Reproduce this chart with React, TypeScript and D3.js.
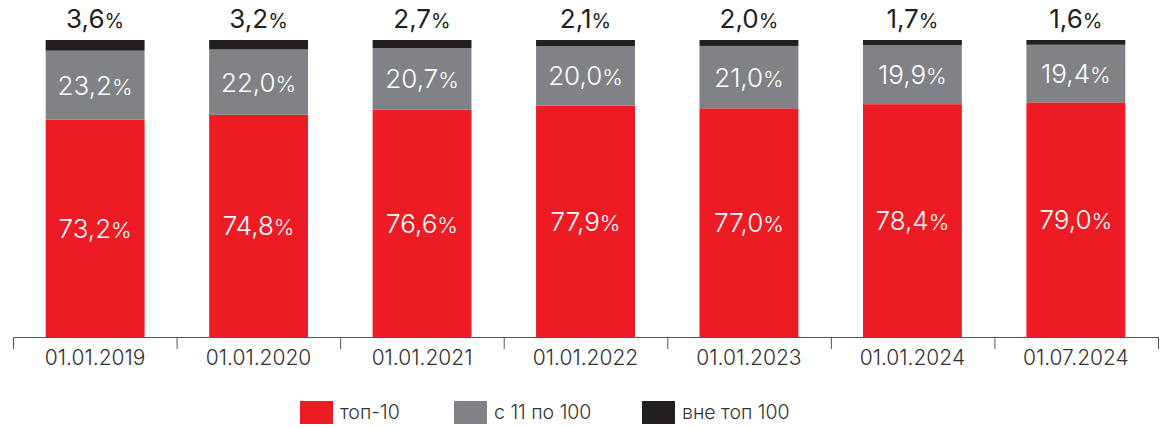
import React from "react";
import * as d3 from "d3";

const categories = ["01.01.2019", "01.01.2020", "01.01.2021", "01.01.2022", "01.01.2023", "01.01.2024", "01.07.2024"];
const top10 = [73.2, 74.8, 76.6, 77.9, 77.0, 78.4, 79.0];
const from11to100 = [23.2, 22.0, 20.7, 20.0, 21.0, 19.9, 19.4];
const outside100 = [3.6, 3.2, 2.7, 2.1, 2.0, 1.7, 1.6];
const seriesNames = ["топ-10", "с 11 по 100", "вне топ 100"];
const colors = ["#ED1C24", "#808285", "#231F20"];

const W = 1167;
const H = 428;
const FONT = "Inter, Roboto, 'Noto Sans', sans-serif";

function fmt(v: number) {
  return v.toFixed(1).replace(".", ",");
}

export default function App() {
  const x = d3.scaleBand<string>().domain(categories).range([13, 1158]).paddingInner(0.395).paddingOuter(0.2);
  const y = d3.scaleLinear().domain([0, 100]).range([337, 40]);
  const band = (1158 - 13) / categories.length;

  const rows = categories.map((c, i) => ({ c, vals: [top10[i], from11to100[i], outside100[i]] }));
  const stack = d3.stack<any>().keys(["0", "1", "2"]).value((d: any, k) => d.vals[+k]);
  const stacked = stack(rows);

  const legendX = [300, 454, 642];

  return (
    <svg width={W} height={H} style={{ position: "absolute", left: 0, top: 0, fontFamily: FONT }}>
      {stacked.map((layer, si) =>
        layer.map((d, i) => (
          <rect key={`${si}-${i}`} x={x(categories[i])} width={x.bandwidth()} y={y(d[1])} height={y(d[0]) - y(d[1])} fill={colors[si]} />
        ))
      )}
      {stacked.slice(0, 2).map((layer, si) =>
        layer.map((d, i) => {
          const cy = (y(d[0]) + y(d[1])) / 2;
          return (
            <text key={`l${si}-${i}`} x={x(categories[i])! + x.bandwidth() / 2} y={cy + 9.5} textAnchor="middle" fill="#fff" fontSize={26} fontWeight={300}>
              {fmt(d[1] - d[0])}
              <tspan fontSize={22}>%</tspan>
            </text>
          );
        })
      )}
      {stacked[2].map((d, i) => (
        <text key={`t${i}`} x={x(categories[i])! + x.bandwidth() / 2} y={y(d[1]) - 12} textAnchor="middle" fill="#231F20" fontSize={26} fontWeight={400}>
          {fmt(d[1] - d[0])}
          <tspan fontSize={20}>%</tspan>
        </text>
      ))}
      <line x1={13} x2={1158} y1={337.5} y2={337.5} stroke="#555" strokeWidth={1} />
      {d3.range(categories.length + 1).map((k) => (
        <line key={`tk${k}`} x1={13 + k * band + 0.5} x2={13 + k * band + 0.5} y1={337} y2={349} stroke="#555" strokeWidth={1} />
      ))}
      {categories.map((c) => (
        <text key={c} x={x(c)! + x.bandwidth() / 2} y={365} textAnchor="middle" fill="#333" fontSize={21} fontWeight={300}>
          {c}
        </text>
      ))}
      {seriesNames.map((n, i) => (
        <g key={n}>
          <rect x={legendX[i]} y={401} width={33} height={23} fill={colors[i]} />
          <text x={legendX[i] + 40} y={419} fill="#333" fontSize={19.5} fontWeight={300}>
            {n}
          </text>
        </g>
      ))}
    </svg>
  );
}
